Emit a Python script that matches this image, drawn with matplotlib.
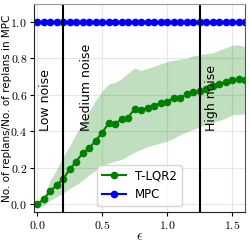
import numpy as np
import matplotlib
matplotlib.use("Agg")
import matplotlib.pyplot as plt
from matplotlib.ticker import FuncFormatter

plt.rcParams['mathtext.fontset'] = 'cm'
plt.rcParams['font.size'] = 8

# data #
eps = [0.0, 0.05, 0.1, 0.15, 0.2, 0.25, 0.3, 0.35, 0.4, 0.45, 0.5,
       0.55, 0.6, 0.65, 0.7, 0.75, 0.8, 0.85, 0.9, 0.95, 1.0,
       1.05, 1.1, 1.15, 1.2, 1.25, 1.3, 1.35, 1.4, 1.45, 1.5, 1.55, 1.6]
tlqr_mean = [0.0, 0.025, 0.07, 0.105, 0.138, 0.19, 0.233, 0.28, 0.306, 0.348, 0.392,
             0.444, 0.44, 0.466, 0.475, 0.523, 0.514, 0.53, 0.539, 0.554, 0.56,
             0.585, 0.58, 0.605, 0.618, 0.62, 0.631, 0.646, 0.659, 0.67, 0.679, 0.686, 0.68]
tlqr_upper = [0.0, 0.04, 0.13, 0.19, 0.26, 0.32, 0.385, 0.45, 0.51, 0.57, 0.62,
              0.66, 0.668, 0.69, 0.72, 0.748, 0.734, 0.745, 0.758, 0.77, 0.783,
              0.79, 0.796, 0.80, 0.815, 0.82, 0.826, 0.83, 0.845, 0.858, 0.872, 0.875, 0.866]
tlqr_lower = [0.0, -0.01, 0.02, 0.04, 0.06, 0.085, 0.105, 0.13, 0.16, 0.185, 0.205,
              0.225, 0.235, 0.245, 0.265, 0.285, 0.30, 0.315, 0.325, 0.335, 0.345,
              0.36, 0.38, 0.395, 0.41, 0.423, 0.435, 0.445, 0.46, 0.47, 0.49, 0.493, 0.495]
mpc = [1.0] * len(eps)

noise_bounds = [0.2, 1.25]
noise_labels = ["Low noise", "Medium noise", "High noise"]
label_x = [0.01, 0.33, 1.29]

fig = plt.figure(figsize=(2.5, 2.43), dpi=100)
ax = fig.add_axes([0.136, 0.128, 0.844, 0.856])

# band + lines #
ax.fill_between(eps, tlqr_lower, tlqr_upper, color='green', alpha=0.25, linewidth=0)
ax.plot(eps, tlqr_mean, color='green', marker='o', markersize=4.5, linewidth=1.5, label='T-LQR2')
ax.plot(eps, mpc, color='blue', marker='o', markersize=4.5, linewidth=1.5, label='MPC')

for b in noise_bounds:
    ax.axvline(b, color='black', linewidth=1.5)
for xt, t in zip(label_x, noise_labels):
    ax.text(xt, 0.4, t, rotation=90, ha='left', va='bottom', fontsize=9)

ax.set_xlim(-0.025, 1.6)
ax.set_ylim(-0.044, 1.1)
ax.set_xticks([0.0, 0.5, 1.0, 1.5])
ax.set_yticks([0.0, 0.2, 0.4, 0.6, 0.8, 1.0])
fmt = FuncFormatter(lambda v, p: r'$%.1f$' % v)
ax.xaxis.set_major_formatter(fmt)
ax.yaxis.set_major_formatter(fmt)
ax.tick_params(labelsize=8.5, length=3, width=0.8, pad=2)
ax.grid(True, color='#e6e6e6', linewidth=0.8)
ax.set_axisbelow(True)
ax.spines['left'].set_color('#222222')
ax.spines['bottom'].set_color('#222222')
ax.spines['top'].set_color('#999999')
ax.spines['right'].set_color('#555555')

ax.set_xlabel(r'$\epsilon$', fontsize=10)
ax.xaxis.set_label_coords(0.5, -0.085)
ax.set_ylabel('No. of replans/No. of replans in MPC', fontsize=7.5)
ax.yaxis.set_label_coords(-0.105, 0.5)
ax.legend(loc='lower center', fontsize=8.5)

fig.savefig('out.png')
